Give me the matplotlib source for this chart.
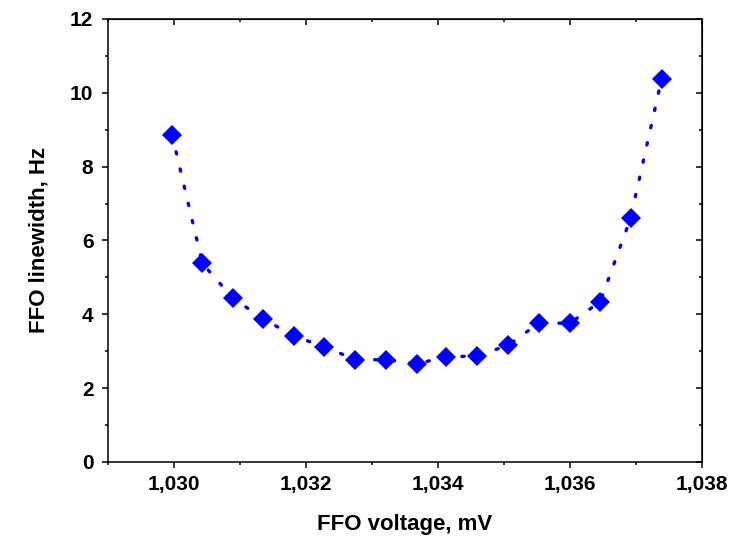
import matplotlib
matplotlib.use('Agg')
from matplotlib import pyplot as plt
from matplotlib.ticker import MultipleLocator, FuncFormatter

# FFO voltage (mV) and linewidth (Hz)
voltage = [1029.97, 1030.43, 1030.89, 1031.35, 1031.82, 1032.28, 1032.75, 1033.21,
           1033.68, 1034.13, 1034.60, 1035.07, 1035.53, 1036.00, 1036.46, 1036.92, 1037.39]
linewidth = [8.87, 5.38, 4.44, 3.88, 3.41, 3.12, 2.77, 2.77,
             2.66, 2.85, 2.87, 3.17, 3.76, 3.76, 4.34, 6.60, 10.37]

plt.rcParams['font.family'] = ['Liberation Sans', 'DejaVu Sans']
plt.rcParams['font.weight'] = 'bold'

fig = plt.figure(figsize=(7.45, 5.38), dpi=100)
ax = fig.add_axes([0.145, 0.1413, 0.797, 0.8234])

ax.plot(voltage, linewidth, color='#0000ff', linestyle=(0, (0.7, 4.6)), linewidth=2.4,
        dash_capstyle='round', marker='D', markersize=10, markeredgewidth=0)

ax.set_xlim(1029, 1038)
ax.set_ylim(0, 12)
ax.xaxis.set_major_locator(MultipleLocator(2))
ax.xaxis.set_minor_locator(MultipleLocator(1))
ax.yaxis.set_major_locator(MultipleLocator(2))
ax.yaxis.set_minor_locator(MultipleLocator(1))
ax.xaxis.set_major_formatter(FuncFormatter(lambda v, p: '{:,.0f}'.format(v)))

for s in ax.spines.values():
    s.set_linewidth(1.1)

ax.tick_params(which='major', direction='out', length=4.5, width=1.1, labelsize=15)
ax.tick_params(axis='x', which='major', pad=5)
ax.tick_params(axis='y', which='major', pad=6)
ax.tick_params(which='minor', direction='out', length=2.5, width=1.1)

# mirrored ticks on top and right, pointing inward
top = ax.secondary_xaxis('top')
top.xaxis.set_major_locator(MultipleLocator(2))
top.xaxis.set_minor_locator(MultipleLocator(1))
top.tick_params(which='major', direction='in', length=4.5, width=1.1, labeltop=False)
top.tick_params(which='minor', direction='in', length=2.5, width=1.1)
right = ax.secondary_yaxis('right')
right.yaxis.set_major_locator(MultipleLocator(2))
right.yaxis.set_minor_locator(MultipleLocator(1))
right.tick_params(which='major', direction='in', length=4.5, width=1.1, labelright=False)
right.tick_params(which='minor', direction='in', length=2.5, width=1.1)

ax.set_xlabel('FFO voltage, mV', fontsize=16, fontweight='bold', labelpad=14)
ax.set_ylabel('FFO linewidth, Hz', fontsize=16, fontweight='bold', labelpad=15)

fig.savefig('out.png', dpi=100)
